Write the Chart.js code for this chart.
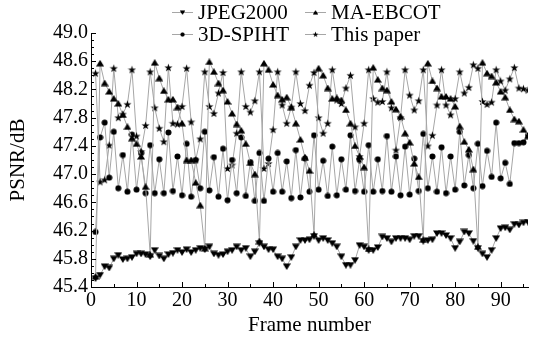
<!DOCTYPE html>
<html>
<head>
<meta charset="utf-8">
<script src="https://cdn.jsdelivr.net/npm/chart.js@4.4.1/dist/chart.umd.min.js"></script>
<style>
html,body{margin:0;padding:0;background:#fff;}
#wrap{width:533px;height:343px;position:relative;}
</style>
</head>
<body>
<div id="wrap"><canvas id="c" width="533" height="343"></canvas></div>
<script>
// ---- data ----
const frames = [];
for (let i = 1; i <= 96; i++) frames.push(i);

const seriesNames = ["JPEG2000", "MA-EBCOT", "3D-SPIHT", "This paper"];

const jpeg2000 = [45.52,45.57,45.69,45.67,45.80,45.85,45.79,45.80,45.82,45.87,45.87,45.86,45.83,45.92,45.84,45.80,45.86,45.88,45.92,45.89,45.93,45.89,45.92,45.95,
45.93,45.97,45.87,45.85,45.86,45.90,45.92,45.97,45.92,45.95,45.83,45.90,46.02,45.97,45.93,45.93,45.83,45.80,45.69,45.82,45.97,46.06,46.06,46.07,
46.12,46.06,46.09,46.06,46.02,45.97,45.83,45.71,45.71,45.78,45.99,45.97,45.92,45.92,45.96,46.11,46.09,46.04,46.09,46.09,46.09,46.07,46.12,46.12,
46.05,46.06,46.07,46.16,46.16,46.13,46.09,45.95,46.04,46.18,46.16,46.05,45.95,45.87,45.82,45.92,46.09,46.23,46.24,46.21,46.29,46.28,46.31,46.32];

const maEbcot = [45.55,48.57,48.29,48.17,48.07,48.00,47.84,47.67,47.51,47.43,47.25,46.82,45.86,
48.58,48.36,48.18,48.06,48.06,47.95,47.72,47.20,47.20,46.88,46.56,45.95,
48.59,48.45,48.29,48.19,48.03,47.86,47.71,47.62,47.43,47.16,47.00,46.05,
48.57,48.48,48.27,48.12,48.06,48.09,47.95,47.72,47.49,47.24,47.05,46.14,
48.50,48.40,48.22,48.07,48.08,48.05,47.91,47.72,47.40,47.25,47.10,45.94,
48.51,48.34,48.22,48.19,48.03,47.92,47.82,47.58,47.45,47.15,46.96,46.07,
48.57,48.32,48.22,48.10,48.10,48.07,47.96,47.68,47.46,47.35,47.07,45.97,
48.58,48.43,48.39,48.30,48.17,48.09,47.91,47.78,47.75,47.63,47.54];

const spiht3d = [46.18,47.52,47.73,46.95,47.60,46.80,47.27,46.75,47.56,46.78,47.30,46.73,47.41,46.73,47.21,46.73,47.59,46.76,47.25,46.70,47.43,46.68,47.20,46.80,
47.60,46.77,47.24,46.68,47.36,46.63,47.20,46.73,47.52,46.69,47.17,46.62,47.30,46.62,47.22,46.75,47.30,46.75,47.18,46.66,47.34,46.67,47.22,46.75,
47.55,46.78,47.19,46.69,47.39,46.70,47.21,46.78,47.55,46.76,47.20,46.75,47.41,46.75,47.21,46.76,47.54,46.75,47.25,46.70,47.39,46.71,47.22,46.76,
47.57,46.80,47.25,46.75,47.38,46.73,47.25,46.78,47.60,46.84,47.27,46.80,47.43,46.83,47.33,46.96,47.73,46.94,47.16,46.86,47.44,47.44,47.45,47.55];

const thisPaper = [48.43,46.89,46.92,47.41,48.50,47.80,47.85,47.99,48.48,47.54,47.32,47.69,48.45,47.94,47.65,47.46,48.51,47.72,47.71,47.96,48.50,47.74,47.20,47.50,
48.45,47.96,47.86,48.15,48.44,47.08,47.13,47.58,48.45,47.96,47.88,48.04,48.45,47.08,47.15,47.63,48.45,47.98,47.72,47.95,48.45,48.00,47.90,48.26,
48.44,47.80,47.58,47.72,48.48,48.05,48.00,48.22,48.40,47.67,47.25,47.72,48.48,48.07,48.02,48.03,48.45,47.94,47.34,47.80,48.48,48.12,47.91,48.04,
48.48,47.40,47.55,47.98,48.48,47.98,47.84,48.07,48.45,48.15,48.23,48.55,48.50,48.03,47.99,48.02,48.48,48.32,48.19,48.35,48.51,48.22,48.21,48.19];

const xTicks = [0,10,20,30,40,50,60,70,80,90];
const yTicks = [45.4,45.8,46.2,46.6,47.0,47.4,47.8,48.2,48.6,49.0];
const xMin = 0, xMax = 96, yMin = 45.4, yMax = 49.0;

// ---- marker images ----
function mk(w, h, draw) {
  const c = document.createElement('canvas');
  c.width = w; c.height = h;
  const g = c.getContext('2d');
  g.fillStyle = '#000';
  draw(g);
  return c;
}
const downTri = mk(8, 7, g => { g.beginPath(); g.moveTo(0,0.5); g.lineTo(8,0.5); g.lineTo(4,7); g.closePath(); g.fill(); });
const upTri = mk(8, 7, g => { g.beginPath(); g.moveTo(0,6.5); g.lineTo(8,6.5); g.lineTo(4,0); g.closePath(); g.fill(); });
const dot = mk(7, 7, g => { g.beginPath(); g.arc(3.5,3.5,3,0,Math.PI*2); g.fill(); });
const star = mk(9, 9, g => {
  g.beginPath();
  for (let i = 0; i < 10; i++) {
    const r = i % 2 === 0 ? 4.3 : 1.7;
    const a = -Math.PI/2 + i * Math.PI/5;
    const x = 4.5 + r*Math.cos(a), y = 4.8 + r*Math.sin(a);
    if (i === 0) g.moveTo(x,y); else g.lineTo(x,y);
  }
  g.closePath(); g.fill();
});
const markers = [downTri, upTri, dot, star];

const values = [jpeg2000, maEbcot, spiht3d, thisPaper];
const datasets = seriesNames.map((name, k) => ({
  label: name,
  data: frames.map((f, i) => ({x: f, y: values[k][i]})),
  borderColor: '#a6a6a6',
  borderWidth: 1,
  pointStyle: markers[k],
  pointRadius: 4,
  pointHoverRadius: 4,
  tension: 0,
  fill: false
}));

const FONT = 'Liberation Serif, Times New Roman, serif';

// inward ticks
const tickPlugin = {
  id: 'inTicks',
  afterDraw(chart) {
    const ctx = chart.ctx, xs = chart.scales.x, ys = chart.scales.y;
    const x0 = xs.left, y0 = ys.bottom;
    ctx.save();
    ctx.strokeStyle = '#000';
    ctx.lineWidth = 1;
    ctx.beginPath();
    for (let v = xMin; v <= xMax; v += 5) {
      const px = Math.round(xs.getPixelForValue(v)) + 0.5;
      const len = xTicks.includes(v) ? 5 : 3;
      ctx.moveTo(px, y0); ctx.lineTo(px, y0 - len);
    }
    for (let i = 0; i <= Math.round((yMax - yMin) * 10); i++) {
      const v = yMin + i * 0.1;
      const py = Math.round(ys.getPixelForValue(v)) + 0.5;
      const major = i % 4 === 0;
      ctx.moveTo(x0, py); ctx.lineTo(x0 + (major ? 5 : 3), py);
    }
    ctx.stroke();
    ctx.restore();
  }
};

// two-column legend
const legendPlugin = {
  id: 'legend2col',
  afterDraw(chart) {
    const ctx = chart.ctx;
    const pos = [[172, 12], [305, 12], [172, 34], [305, 34]];
    ctx.save();
    ctx.font = '21px ' + FONT;
    ctx.textBaseline = 'middle';
    ctx.fillStyle = '#000';
    seriesNames.forEach((name, k) => {
      const [lx, ly] = pos[k];
      ctx.strokeStyle = '#a6a6a6';
      ctx.lineWidth = 1;
      ctx.beginPath();
      ctx.moveTo(lx, ly + 0.5); ctx.lineTo(lx + 21, ly + 0.5);
      ctx.stroke();
      const m = markers[k];
      const s = 0.7;
      ctx.drawImage(m, lx + 10.5 - m.width*s/2, ly + 0.5 - m.height*s/2, m.width*s, m.height*s);
      ctx.fillText(name, lx + 26, ly + 1);
    });
    ctx.restore();
  }
};

new Chart(document.getElementById('c'), {
  type: 'line',
  data: { datasets },
  plugins: [tickPlugin, legendPlugin],
  options: {
    responsive: false,
    animation: false,
    devicePixelRatio: 1,
    layout: { padding: { top: 33, left: 0, right: 0, bottom: 0 } },
    plugins: { legend: { display: false }, tooltip: { enabled: false } },
    scales: {
      x: {
        type: 'linear', min: xMin, max: xMax,
        afterBuildTicks: s => { s.ticks = xTicks.map(v => ({value: v})); },
        afterFit: s => { s.height = 56; },
        grid: { display: false, drawTicks: false },
        border: { display: true, color: '#000', width: 1 },
        ticks: { color: '#000', font: { family: FONT, size: 20 }, padding: 2, maxRotation: 0, autoSkip: false },
        title: { display: true, text: 'Frame number', color: '#000', font: { family: FONT, size: 21 }, padding: { top: 0, bottom: 5 } }
      },
      y: {
        type: 'linear', min: yMin, max: yMax,
        afterBuildTicks: s => { s.ticks = yTicks.map(v => ({value: v})); },
        afterFit: s => { s.width = 91; },
        grid: { display: false, drawTicks: false },
        border: { display: true, color: '#000', width: 1 },
        ticks: { color: '#000', font: { family: FONT, size: 20 }, padding: 3, callback: v => Number(v).toFixed(1) },
        title: { display: true, text: 'PSNR/dB', color: '#000', font: { family: FONT, size: 21 }, padding: { top: 6, bottom: 0 } }
      }
    }
  }
});
</script>
</body>
</html>
